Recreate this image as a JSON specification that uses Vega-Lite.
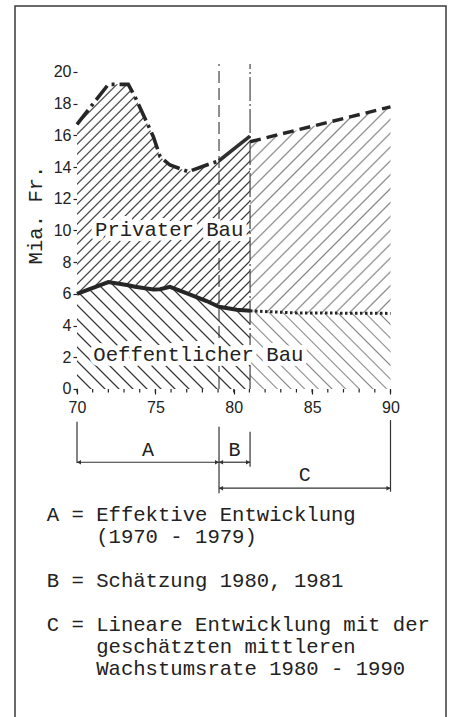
{
"$schema":"https://vega.github.io/schema/vega-lite/v6.json",
"width":431,"height":720,
"autosize":{"type":"none"},
"padding":{"left":15,"top":6,"right":3,"bottom":0},
"background":"#ffffff",
"config":{
 "view":{"stroke":"#3a3a3a","strokeWidth":1.5},
 "axis":{"domain":false,"grid":false,"labelFont":"Liberation Sans","labelFontSize":16,"labelColor":"#222222","tickColor":"#222222","tickWidth":1.2,"labelOverlap":false},
 "axisX":{"offset":-337,"tickSize":5,"labelPadding":5,"labelFlush":false},
 "axisY":{"offset":-62,"tickSize":4,"labelPadding":2},
 "text":{"font":"Liberation Mono","fontSize":20.6,"fill":"#222"}
},
"datasets":{
 "hist":[
  {"year":70,"priv":16.7,"pub":6.0},
  {"year":72.0,"priv":19.22,"pub":6.75},
  {"year":73.27,"priv":19.22,"pub":6.55},
  {"year":73.7,"priv":18.44,"pub":6.45},
  {"year":74.87,"priv":15.92,"pub":6.28},
  {"year":75.3,"priv":14.66,"pub":6.3},
  {"year":75.93,"priv":14.13,"pub":6.45},
  {"year":77.1,"priv":13.71,"pub":6.0},
  {"year":78.27,"priv":14.13,"pub":5.55},
  {"year":79.06,"priv":14.4,"pub":5.19},
  {"year":80.19,"priv":15.29,"pub":5.0},
  {"year":81.04,"priv":15.96,"pub":4.93}
 ],
 "proj":[
  {"year":81.04,"priv":15.6,"pub":4.93},
  {"year":84,"priv":16.33,"pub":4.8},
  {"year":90,"priv":17.8,"pub":4.77}
 ],
 "periods":[
  {"period":"A","start":70,"end":79.06},
  {"period":"B","start":79.06,"end":81.04},
  {"period":"C","start":79.06,"end":90}
 ],
 "years":[
  {"year":70},{"year":71},{"year":72},{"year":73},{"year":74},{"year":75},{"year":76},{"year":77},{"year":78},{"year":79},{"year":80},
  {"year":81},{"year":82},{"year":83},{"year":84},{"year":85},{"year":86},{"year":87},{"year":88},{"year":89},{"year":90}
 ]
},
"layer":[
 {"data":{"name":"hist"},
  "mark":{"type":"area","opacity":1,"fill":{"gradient":"linear","id":"hatchPrivHist","x1":0,"y1":0,"x2":0.8513,"y2":1.1139,"stops":[
   {"offset":0,"color":"#333"},{"offset":0.004,"color":"#fff"},{"offset":0.021,"color":"#fff"},
   {"offset":0.025,"color":"#333"},{"offset":0.029,"color":"#fff"},{"offset":0.046,"color":"#fff"},
   {"offset":0.05,"color":"#333"},{"offset":0.054,"color":"#fff"},{"offset":0.071,"color":"#fff"},
   {"offset":0.075,"color":"#333"},{"offset":0.079,"color":"#fff"},{"offset":0.096,"color":"#fff"},
   {"offset":0.1,"color":"#333"},{"offset":0.104,"color":"#fff"},{"offset":0.121,"color":"#fff"},
   {"offset":0.125,"color":"#333"},{"offset":0.129,"color":"#fff"},{"offset":0.146,"color":"#fff"},
   {"offset":0.15,"color":"#333"},{"offset":0.154,"color":"#fff"},{"offset":0.171,"color":"#fff"},
   {"offset":0.175,"color":"#333"},{"offset":0.179,"color":"#fff"},{"offset":0.196,"color":"#fff"},
   {"offset":0.2,"color":"#333"},{"offset":0.204,"color":"#fff"},{"offset":0.221,"color":"#fff"},
   {"offset":0.225,"color":"#333"},{"offset":0.229,"color":"#fff"},{"offset":0.246,"color":"#fff"},
   {"offset":0.25,"color":"#333"},{"offset":0.254,"color":"#fff"},{"offset":0.271,"color":"#fff"},
   {"offset":0.275,"color":"#333"},{"offset":0.279,"color":"#fff"},{"offset":0.296,"color":"#fff"},
   {"offset":0.3,"color":"#333"},{"offset":0.304,"color":"#fff"},{"offset":0.321,"color":"#fff"},
   {"offset":0.325,"color":"#333"},{"offset":0.329,"color":"#fff"},{"offset":0.346,"color":"#fff"},
   {"offset":0.35,"color":"#333"},{"offset":0.354,"color":"#fff"},{"offset":0.371,"color":"#fff"},
   {"offset":0.375,"color":"#333"},{"offset":0.379,"color":"#fff"},{"offset":0.396,"color":"#fff"},
   {"offset":0.4,"color":"#333"},{"offset":0.404,"color":"#fff"},{"offset":0.421,"color":"#fff"},
   {"offset":0.425,"color":"#333"},{"offset":0.429,"color":"#fff"},{"offset":0.446,"color":"#fff"},
   {"offset":0.45,"color":"#333"},{"offset":0.454,"color":"#fff"},{"offset":0.471,"color":"#fff"},
   {"offset":0.475,"color":"#333"},{"offset":0.479,"color":"#fff"},{"offset":0.496,"color":"#fff"},
   {"offset":0.5,"color":"#333"},{"offset":0.504,"color":"#fff"},{"offset":0.521,"color":"#fff"},
   {"offset":0.525,"color":"#333"},{"offset":0.529,"color":"#fff"},{"offset":0.546,"color":"#fff"},
   {"offset":0.55,"color":"#333"},{"offset":0.554,"color":"#fff"},{"offset":0.571,"color":"#fff"},
   {"offset":0.575,"color":"#333"},{"offset":0.579,"color":"#fff"},{"offset":0.596,"color":"#fff"},
   {"offset":0.6,"color":"#333"},{"offset":0.604,"color":"#fff"},{"offset":0.621,"color":"#fff"},
   {"offset":0.625,"color":"#333"},{"offset":0.629,"color":"#fff"},{"offset":0.646,"color":"#fff"},
   {"offset":0.65,"color":"#333"},{"offset":0.654,"color":"#fff"},{"offset":0.671,"color":"#fff"},
   {"offset":0.675,"color":"#333"},{"offset":0.679,"color":"#fff"},{"offset":0.696,"color":"#fff"},
   {"offset":0.7,"color":"#333"},{"offset":0.704,"color":"#fff"},{"offset":0.721,"color":"#fff"},
   {"offset":0.725,"color":"#333"},{"offset":0.729,"color":"#fff"},{"offset":0.746,"color":"#fff"},
   {"offset":0.75,"color":"#333"},{"offset":0.754,"color":"#fff"},{"offset":0.771,"color":"#fff"},
   {"offset":0.775,"color":"#333"},{"offset":0.779,"color":"#fff"},{"offset":0.796,"color":"#fff"},
   {"offset":0.8,"color":"#333"},{"offset":0.804,"color":"#fff"},{"offset":0.821,"color":"#fff"},
   {"offset":0.825,"color":"#333"},{"offset":0.829,"color":"#fff"},{"offset":0.846,"color":"#fff"},
   {"offset":0.85,"color":"#333"},{"offset":0.854,"color":"#fff"},{"offset":0.871,"color":"#fff"},
   {"offset":0.875,"color":"#333"},{"offset":0.879,"color":"#fff"},{"offset":0.896,"color":"#fff"},
   {"offset":0.9,"color":"#333"},{"offset":0.904,"color":"#fff"},{"offset":0.921,"color":"#fff"},
   {"offset":0.925,"color":"#333"},{"offset":0.929,"color":"#fff"},{"offset":0.946,"color":"#fff"},
   {"offset":0.95,"color":"#333"},{"offset":0.954,"color":"#fff"},{"offset":0.971,"color":"#fff"},
   {"offset":0.975,"color":"#333"},{"offset":0.979,"color":"#fff"},{"offset":0.996,"color":"#fff"},
   {"offset":1,"color":"#333"}]}},
  "encoding":{
   "x":{"field":"year","type":"quantitative","title":null,"scale":{"domain":[66.0447,93.5407],"nice":false,"zero":false},"axis":{"values":[70,75,80,85,90]}},
   "y":{"field":"priv","type":"quantitative","title":null,"scale":{"domain":[-21.2618,24.164],"nice":false,"zero":false},"axis":{"values":[0,2,4,6,8,10,12,14,16,18,20]}},
   "y2":{"field":"pub"}}},
 {"data":{"name":"hist"},
  "mark":{"type":"area","opacity":1,"fill":{"gradient":"linear","id":"hatchPubHist","x1":0,"y1":1,"x2":1.1708,"y2":0.2763,"stops":[
   {"offset":0,"color":"#333"},{"offset":0.006,"color":"#fff"},{"offset":0.044,"color":"#fff"},
   {"offset":0.05,"color":"#333"},{"offset":0.056,"color":"#fff"},{"offset":0.094,"color":"#fff"},
   {"offset":0.1,"color":"#333"},{"offset":0.106,"color":"#fff"},{"offset":0.144,"color":"#fff"},
   {"offset":0.15,"color":"#333"},{"offset":0.156,"color":"#fff"},{"offset":0.194,"color":"#fff"},
   {"offset":0.2,"color":"#333"},{"offset":0.206,"color":"#fff"},{"offset":0.244,"color":"#fff"},
   {"offset":0.25,"color":"#333"},{"offset":0.256,"color":"#fff"},{"offset":0.294,"color":"#fff"},
   {"offset":0.3,"color":"#333"},{"offset":0.306,"color":"#fff"},{"offset":0.344,"color":"#fff"},
   {"offset":0.35,"color":"#333"},{"offset":0.356,"color":"#fff"},{"offset":0.394,"color":"#fff"},
   {"offset":0.4,"color":"#333"},{"offset":0.406,"color":"#fff"},{"offset":0.444,"color":"#fff"},
   {"offset":0.45,"color":"#333"},{"offset":0.456,"color":"#fff"},{"offset":0.494,"color":"#fff"},
   {"offset":0.5,"color":"#333"},{"offset":0.506,"color":"#fff"},{"offset":0.544,"color":"#fff"},
   {"offset":0.55,"color":"#333"},{"offset":0.556,"color":"#fff"},{"offset":0.594,"color":"#fff"},
   {"offset":0.6,"color":"#333"},{"offset":0.606,"color":"#fff"},{"offset":0.644,"color":"#fff"},
   {"offset":0.65,"color":"#333"},{"offset":0.656,"color":"#fff"},{"offset":0.694,"color":"#fff"},
   {"offset":0.7,"color":"#333"},{"offset":0.706,"color":"#fff"},{"offset":0.744,"color":"#fff"},
   {"offset":0.75,"color":"#333"},{"offset":0.756,"color":"#fff"},{"offset":0.794,"color":"#fff"},
   {"offset":0.8,"color":"#333"},{"offset":0.806,"color":"#fff"},{"offset":0.844,"color":"#fff"},
   {"offset":0.85,"color":"#333"},{"offset":0.856,"color":"#fff"},{"offset":0.894,"color":"#fff"},
   {"offset":0.9,"color":"#333"},{"offset":0.906,"color":"#fff"},{"offset":0.944,"color":"#fff"},
   {"offset":0.95,"color":"#333"},{"offset":0.956,"color":"#fff"},{"offset":0.994,"color":"#fff"},
   {"offset":1,"color":"#333"}]}},
  "encoding":{
   "x":{"field":"year","type":"quantitative","title":null},
   "y":{"field":"pub","type":"quantitative","title":null},
   "y2":{"datum":0}}},
 {"data":{"name":"proj"},
  "mark":{"type":"area","opacity":1,"fill":{"gradient":"linear","id":"hatchPrivProj","x1":0,"y1":0,"x2":0.7811,"y2":1.149,"stops":[
   {"offset":0,"color":"#888"},{"offset":0.005,"color":"#fff"},{"offset":0.035,"color":"#fff"},
   {"offset":0.04,"color":"#888"},{"offset":0.045,"color":"#fff"},{"offset":0.075,"color":"#fff"},
   {"offset":0.08,"color":"#888"},{"offset":0.085,"color":"#fff"},{"offset":0.115,"color":"#fff"},
   {"offset":0.12,"color":"#888"},{"offset":0.125,"color":"#fff"},{"offset":0.155,"color":"#fff"},
   {"offset":0.16,"color":"#888"},{"offset":0.165,"color":"#fff"},{"offset":0.195,"color":"#fff"},
   {"offset":0.2,"color":"#888"},{"offset":0.205,"color":"#fff"},{"offset":0.235,"color":"#fff"},
   {"offset":0.24,"color":"#888"},{"offset":0.245,"color":"#fff"},{"offset":0.275,"color":"#fff"},
   {"offset":0.28,"color":"#888"},{"offset":0.285,"color":"#fff"},{"offset":0.315,"color":"#fff"},
   {"offset":0.32,"color":"#888"},{"offset":0.325,"color":"#fff"},{"offset":0.355,"color":"#fff"},
   {"offset":0.36,"color":"#888"},{"offset":0.365,"color":"#fff"},{"offset":0.395,"color":"#fff"},
   {"offset":0.4,"color":"#888"},{"offset":0.405,"color":"#fff"},{"offset":0.435,"color":"#fff"},
   {"offset":0.44,"color":"#888"},{"offset":0.445,"color":"#fff"},{"offset":0.475,"color":"#fff"},
   {"offset":0.48,"color":"#888"},{"offset":0.485,"color":"#fff"},{"offset":0.515,"color":"#fff"},
   {"offset":0.52,"color":"#888"},{"offset":0.525,"color":"#fff"},{"offset":0.555,"color":"#fff"},
   {"offset":0.56,"color":"#888"},{"offset":0.565,"color":"#fff"},{"offset":0.595,"color":"#fff"},
   {"offset":0.6,"color":"#888"},{"offset":0.605,"color":"#fff"},{"offset":0.635,"color":"#fff"},
   {"offset":0.64,"color":"#888"},{"offset":0.645,"color":"#fff"},{"offset":0.675,"color":"#fff"},
   {"offset":0.68,"color":"#888"},{"offset":0.685,"color":"#fff"},{"offset":0.715,"color":"#fff"},
   {"offset":0.72,"color":"#888"},{"offset":0.725,"color":"#fff"},{"offset":0.755,"color":"#fff"},
   {"offset":0.76,"color":"#888"},{"offset":0.765,"color":"#fff"},{"offset":0.795,"color":"#fff"},
   {"offset":0.8,"color":"#888"},{"offset":0.805,"color":"#fff"},{"offset":0.835,"color":"#fff"},
   {"offset":0.84,"color":"#888"},{"offset":0.845,"color":"#fff"},{"offset":0.875,"color":"#fff"},
   {"offset":0.88,"color":"#888"},{"offset":0.885,"color":"#fff"},{"offset":0.915,"color":"#fff"},
   {"offset":0.92,"color":"#888"},{"offset":0.925,"color":"#fff"},{"offset":0.955,"color":"#fff"},
   {"offset":0.96,"color":"#888"},{"offset":0.965,"color":"#fff"},{"offset":0.995,"color":"#fff"},
   {"offset":1,"color":"#888"}]}},
  "encoding":{
   "x":{"field":"year","type":"quantitative","title":null},
   "y":{"field":"priv","type":"quantitative","title":null},
   "y2":{"field":"pub"}}},
 {"data":{"name":"proj"},
  "mark":{"type":"area","opacity":1,"fill":{"gradient":"linear","id":"hatchPubProj","x1":0,"y1":1,"x2":1.1886,"y2":0.3388,"stops":[
   {"offset":0,"color":"#888"},{"offset":0.007,"color":"#fff"},{"offset":0.0555,"color":"#fff"},
   {"offset":0.0625,"color":"#888"},{"offset":0.0695,"color":"#fff"},{"offset":0.118,"color":"#fff"},
   {"offset":0.125,"color":"#888"},{"offset":0.132,"color":"#fff"},{"offset":0.1805,"color":"#fff"},
   {"offset":0.1875,"color":"#888"},{"offset":0.1945,"color":"#fff"},{"offset":0.243,"color":"#fff"},
   {"offset":0.25,"color":"#888"},{"offset":0.257,"color":"#fff"},{"offset":0.3055,"color":"#fff"},
   {"offset":0.3125,"color":"#888"},{"offset":0.3195,"color":"#fff"},{"offset":0.368,"color":"#fff"},
   {"offset":0.375,"color":"#888"},{"offset":0.382,"color":"#fff"},{"offset":0.4305,"color":"#fff"},
   {"offset":0.4375,"color":"#888"},{"offset":0.4445,"color":"#fff"},{"offset":0.493,"color":"#fff"},
   {"offset":0.5,"color":"#888"},{"offset":0.507,"color":"#fff"},{"offset":0.5555,"color":"#fff"},
   {"offset":0.5625,"color":"#888"},{"offset":0.5695,"color":"#fff"},{"offset":0.618,"color":"#fff"},
   {"offset":0.625,"color":"#888"},{"offset":0.632,"color":"#fff"},{"offset":0.6805,"color":"#fff"},
   {"offset":0.6875,"color":"#888"},{"offset":0.6945,"color":"#fff"},{"offset":0.743,"color":"#fff"},
   {"offset":0.75,"color":"#888"},{"offset":0.757,"color":"#fff"},{"offset":0.8055,"color":"#fff"},
   {"offset":0.8125,"color":"#888"},{"offset":0.8195,"color":"#fff"},{"offset":0.868,"color":"#fff"},
   {"offset":0.875,"color":"#888"},{"offset":0.882,"color":"#fff"},{"offset":0.9305,"color":"#fff"},
   {"offset":0.9375,"color":"#888"},{"offset":0.9445,"color":"#fff"},{"offset":0.993,"color":"#fff"},
   {"offset":1,"color":"#888"}]}},
  "encoding":{
   "x":{"field":"year","type":"quantitative","title":null},
   "y":{"field":"pub","type":"quantitative","title":null},
   "y2":{"datum":0}}},
 {"data":{"name":"periods"},"transform":[{"filter":"datum.period === 'B'"}],
  "mark":{"type":"rule","color":"#333","strokeWidth":1.1,"strokeDash":[12,5]},
  "encoding":{"x":{"field":"start","type":"quantitative","title":null},"y":{"datum":0,"type":"quantitative"},"y2":{"datum":20.5}}},
 {"data":{"name":"periods"},"transform":[{"filter":"datum.period === 'B'"}],
  "mark":{"type":"rule","color":"#333","strokeWidth":1.1,"strokeDash":[24,3,2,3]},
  "encoding":{"x":{"field":"end","type":"quantitative","title":null},"y":{"datum":0,"type":"quantitative"},"y2":{"datum":20.5}}},
 {"mark":{"type":"rule","color":"#222","strokeWidth":1.5},
  "encoding":{"x":{"datum":70,"type":"quantitative"},"x2":{"datum":90},"y":{"datum":0,"type":"quantitative"}}},
 {"mark":{"type":"rule","color":"#222","strokeWidth":1.5},
  "encoding":{"x":{"datum":70,"type":"quantitative"},"y":{"datum":0,"type":"quantitative"},"y2":{"datum":20.3}}},
 {"data":{"name":"years"},
  "mark":{"type":"rule","color":"#222","strokeWidth":1.2},
  "encoding":{"x":{"field":"year","type":"quantitative","title":null},"y":{"datum":0,"type":"quantitative"},"y2":{"datum":-0.22}}},
 {"data":{"values":[{"label":"Privater Bau","year":71.15,"value":10.03},{"label":"Oeffentlicher Bau","year":71.04,"value":2.15}]},
  "mark":{"type":"text","align":"left","baseline":"middle","fill":"#fff","stroke":"#fff","strokeWidth":10,"strokeJoin":"round"},
  "encoding":{"x":{"field":"year","type":"quantitative","title":null},"y":{"field":"value","type":"quantitative","title":null},"text":{"field":"label"}}},
 {"data":{"name":"hist"},"mark":{"type":"line","color":"#262626","strokeWidth":4},
  "encoding":{"x":{"field":"year","type":"quantitative","title":null},"y":{"field":"pub","type":"quantitative","title":null}}},
 {"data":{"name":"hist"},"transform":[{"filter":"datum.year <= 79.06"}],
  "mark":{"type":"line","color":"#262626","strokeWidth":3.6,"strokeDash":[18,5,3,5]},
  "encoding":{"x":{"field":"year","type":"quantitative","title":null},"y":{"field":"priv","type":"quantitative","title":null}}},
 {"data":{"name":"hist"},"transform":[{"filter":"datum.year >= 79.06"}],
  "mark":{"type":"line","color":"#303030","strokeWidth":3.6},
  "encoding":{"x":{"field":"year","type":"quantitative","title":null},"y":{"field":"priv","type":"quantitative","title":null}}},
 {"data":{"name":"proj"},"mark":{"type":"line","color":"#262626","strokeWidth":3.4,"strokeDash":[11,6]},
  "encoding":{"x":{"field":"year","type":"quantitative","title":null},"y":{"field":"priv","type":"quantitative","title":null}}},
 {"data":{"name":"proj"},"mark":{"type":"line","color":"#262626","strokeWidth":3,"strokeDash":[2.5,2.5]},
  "encoding":{"x":{"field":"year","type":"quantitative","title":null},"y":{"field":"pub","type":"quantitative","title":null}}},
 {"data":{"values":[{"label":"Privater Bau","year":71.15,"value":10.03},{"label":"Oeffentlicher Bau","year":71.04,"value":2.15}]},
  "mark":{"type":"text","align":"left","baseline":"middle"},
  "encoding":{"x":{"field":"year","type":"quantitative","title":null},"y":{"field":"value","type":"quantitative","title":null},"text":{"field":"label"}}},
 {"data":{"values":[{"label":"Mia. Fr.","year":67.38,"value":10.98}]},
  "mark":{"type":"text","align":"center","baseline":"middle","angle":270},
  "encoding":{"x":{"field":"year","type":"quantitative","title":null},"y":{"field":"value","type":"quantitative","title":null},"text":{"field":"label"}}},
 {"data":{"name":"periods"},"transform":[{"filter":"datum.period === 'A'"}],
  "mark":{"type":"rule","color":"#333","strokeWidth":1.2},
  "encoding":{"x":{"field":"start","type":"quantitative","title":null},"y":{"datum":-2.06,"type":"quantitative"},"y2":{"datum":-4.67}}},
 {"data":{"name":"periods"},"transform":[{"filter":"datum.period === 'B'"}],
  "mark":{"type":"rule","color":"#333","strokeWidth":1.2},
  "encoding":{"x":{"field":"end","type":"quantitative","title":null},"y":{"datum":-2.69,"type":"quantitative"},"y2":{"datum":-4.9}}},
 {"data":{"name":"periods"},"transform":[{"filter":"datum.period === 'C'"}],
  "mark":{"type":"rule","color":"#333","strokeWidth":1.2},
  "encoding":{"x":{"field":"start","type":"quantitative","title":null},"y":{"datum":-2.38,"type":"quantitative"},"y2":{"datum":-6.58}}},
 {"data":{"name":"periods"},"transform":[{"filter":"datum.period === 'C'"}],
  "mark":{"type":"rule","color":"#333","strokeWidth":1.2},
  "encoding":{"x":{"field":"end","type":"quantitative","title":null},"y":{"datum":-1.96,"type":"quantitative"},"y2":{"datum":-6.48}}},
 {"data":{"name":"periods"},"transform":[{"filter":"datum.period !== 'C'"}],
  "mark":{"type":"rule","color":"#333","strokeWidth":1.2},
  "encoding":{"x":{"field":"start","type":"quantitative","title":null},"x2":{"field":"end"},"y":{"datum":-4.62,"type":"quantitative"}}},
 {"data":{"name":"periods"},"transform":[{"filter":"datum.period === 'C'"}],
  "mark":{"type":"rule","color":"#333","strokeWidth":1.2},
  "encoding":{"x":{"field":"start","type":"quantitative","title":null},"x2":{"field":"end"},"y":{"datum":-6.26,"type":"quantitative"}}},
 {"data":{"name":"periods"},"transform":[{"filter":"datum.period !== 'C'"}],
  "mark":{"type":"point","shape":"triangle-left","filled":true,"color":"#333","size":22,"opacity":1,"xOffset":2},
  "encoding":{"x":{"field":"start","type":"quantitative","title":null},"y":{"datum":-4.62,"type":"quantitative"}}},
 {"data":{"name":"periods"},"transform":[{"filter":"datum.period !== 'C'"}],
  "mark":{"type":"point","shape":"triangle-right","filled":true,"color":"#333","size":22,"opacity":1,"xOffset":-2},
  "encoding":{"x":{"field":"end","type":"quantitative","title":null},"y":{"datum":-4.62,"type":"quantitative"}}},
 {"data":{"name":"periods"},"transform":[{"filter":"datum.period === 'C'"}],
  "mark":{"type":"point","shape":"triangle-left","filled":true,"color":"#333","size":22,"opacity":1,"xOffset":2},
  "encoding":{"x":{"field":"start","type":"quantitative","title":null},"y":{"datum":-6.26,"type":"quantitative"}}},
 {"data":{"name":"periods"},"transform":[{"filter":"datum.period === 'C'"}],
  "mark":{"type":"point","shape":"triangle-right","filled":true,"color":"#333","size":22,"opacity":1,"xOffset":-2},
  "encoding":{"x":{"field":"end","type":"quantitative","title":null},"y":{"datum":-6.26,"type":"quantitative"}}},
 {"data":{"name":"periods"},"transform":[{"filter":"datum.period !== 'C'"},{"calculate":"(datum.start + datum.end) / 2","as":"mid"}],
  "mark":{"type":"text","align":"center","baseline":"middle","fontSize":20},
  "encoding":{"x":{"field":"mid","type":"quantitative","title":null},"y":{"datum":-3.85,"type":"quantitative"},"text":{"field":"period"}}},
 {"data":{"name":"periods"},"transform":[{"filter":"datum.period === 'C'"},{"calculate":"(datum.start + datum.end) / 2","as":"mid"}],
  "mark":{"type":"text","align":"center","baseline":"middle","fontSize":20},
  "encoding":{"x":{"field":"mid","type":"quantitative","title":null},"y":{"datum":-5.43,"type":"quantitative"},"text":{"field":"period"}}},
 {"data":{"values":[{"note":"A = Effektive Entwicklung\n\u200b\u00a0\u00a0\u00a0\u00a0(1970 - 1979)\n\u200b\nB = Schätzung 1980, 1981\n\u200b\nC = Lineare Entwicklung mit der\n\u200b\u00a0\u00a0\u00a0\u00a0geschätzten mittleren\n\u200b\u00a0\u00a0\u00a0\u00a0Wachstumsrate 1980 - 1990","year":68.07,"value":-8.328}]},
  "mark":{"type":"text","align":"left","baseline":"alphabetic","lineHeight":22,"lineBreak":"\n"},
  "encoding":{"x":{"field":"year","type":"quantitative","title":null},"y":{"field":"value","type":"quantitative","title":null},"text":{"field":"note"}}}
]
}
